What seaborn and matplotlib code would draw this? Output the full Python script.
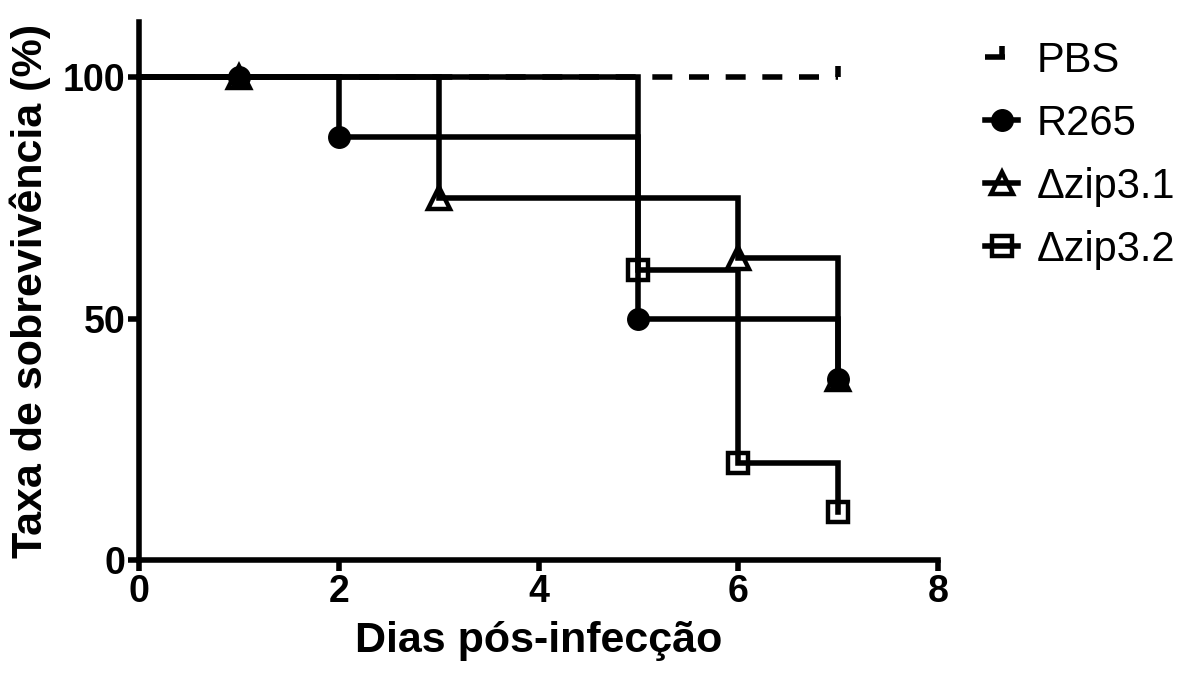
import matplotlib
matplotlib.use("Agg")
import matplotlib.pyplot as plt
import seaborn as sns
import pandas as pd

sns.set_theme(style="ticks")
plt.rcParams['font.family'] = ['Liberation Sans', 'DejaVu Sans']
plt.rcParams.update({"text.color": "black", "axes.labelcolor": "black",
                     "xtick.color": "black", "ytick.color": "black",
                     "axes.edgecolor": "black"})

# Data (days post-infection, survival %)
pbs_days = [0, 7]
pbs_surv = [100, 100]
r265_days = [0, 1, 2, 5, 7]
r265_surv = [100, 100, 87.5, 50, 37.5]
zip31_days = [0, 1, 3, 6, 7]
zip31_surv = [100, 100, 75, 62.5, 37.5]
zip32_days = [0, 5, 6, 7]
zip32_surv = [100, 60, 20, 10]

labels = ["PBS", "R265", "\u0394zip3.1", "\u0394zip3.2"]
xticks = [0, 2, 4, 6, 8]
yticks = [0, 50, 100]

fig = plt.figure(figsize=(11.81, 6.75), dpi=100)
ax = fig.add_axes([139/1181, 1 - 560/675, (938-139)/1181, (560-22)/675])

LW = 4.0
common = dict(ax=ax, color="black", drawstyle="steps-post", linewidth=LW,
              errorbar=None, sort=False)

# PBS dashed
sns.lineplot(x=pbs_days, y=pbs_surv, linestyle=(0, (3.6, 3.0)),
             marker=2, markersize=8, markeredgewidth=4, markeredgecolor="black",
             markevery=[1], label=labels[0], **common)
# R265
sns.lineplot(x=r265_days, y=r265_surv, marker="o", markersize=15.5,
             markerfacecolor="black", markeredgecolor="black", markeredgewidth=1,
             markevery=slice(1, None), label=labels[1], **common)
# zip3.1
sns.lineplot(x=zip31_days, y=zip31_surv, marker="^", markersize=15.5,
             markerfacecolor="none", markeredgecolor="black", markeredgewidth=3.2,
             markevery=slice(1, None), label=labels[2], **common)
# zip3.2
sns.lineplot(x=zip32_days, y=zip32_surv, marker="s", markersize=15,
             markerfacecolor="none", markeredgecolor="black", markeredgewidth=3.2,
             markevery=slice(1, None), label=labels[3], **common)

for ln in ax.get_lines():
    ln.set_solid_capstyle("projecting")
    ln.set_solid_joinstyle("miter")
    ln.set_clip_on(False)

ax.set_xlim(0, 8)
ax.set_ylim(0, 111.4)
ax.set_xticks(xticks)
ax.set_yticks(yticks)
ax.set_xticklabels([str(t) for t in xticks], fontsize=27, fontweight="bold")
ax.set_yticklabels([str(t) for t in yticks], fontsize=27, fontweight="bold")
ax.tick_params(axis="both", which="major", length=8, width=4, color="black", pad=2)

for side in ["top", "right"]:
    ax.spines[side].set_visible(False)
for side in ["left", "bottom"]:
    ax.spines[side].set_linewidth(4)
    ax.spines[side].set_color("black")
    ax.spines[side].set_capstyle("projecting")

ax.set_xlabel("Dias pós-infecção", fontsize=31, fontweight="bold", labelpad=8)
ax.set_ylabel("Taxa de sobrevivência (%)", fontsize=31, fontweight="bold", labelpad=8)

leg = ax.legend(loc="upper left", bbox_to_anchor=(985/1181, 1 - 41/675),
                bbox_transform=fig.transFigure, frameon=False, fontsize=30,
                handlelength=0.8, handletextpad=0.45, labelspacing=0.55,
                borderaxespad=0, borderpad=0)

fig.savefig("out.png", dpi=100, facecolor="white")
